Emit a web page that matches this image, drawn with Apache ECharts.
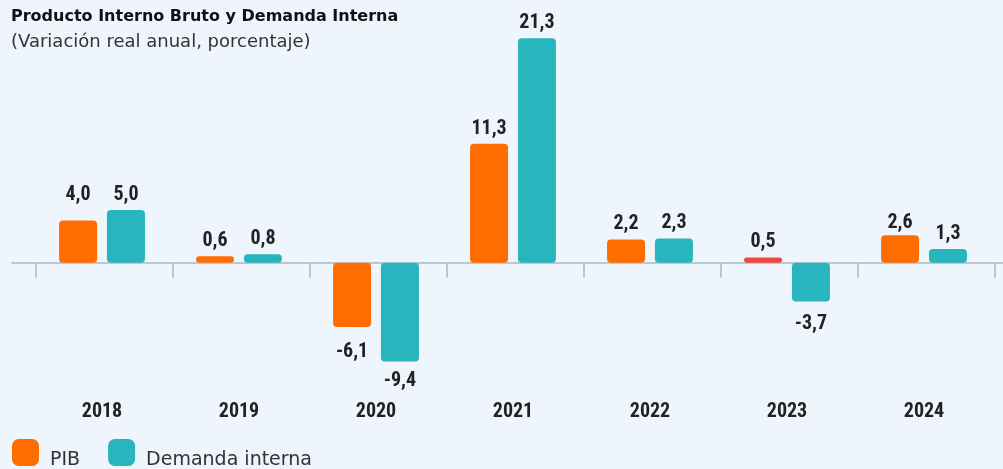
<!DOCTYPE html>
<html>
<head>
<meta charset="utf-8">
<script src="https://cdn.jsdelivr.net/npm/echarts@6/dist/echarts.min.js"></script>
<style>
  html, body { margin: 0; padding: 0; background: #EEF5FC; }
  #chart { width: 1003px; height: 469px; }
</style>
</head>
<body>
<div id="chart"></div>
<script>
// Real annual change (%) of GDP and domestic demand
const years = ['2018', '2019', '2020', '2021', '2022', '2023', '2024'];
const pib = [4.0, 0.6, -6.1, 11.3, 2.2, 0.5, 2.6];
const demandaInterna = [5.0, 0.8, -9.4, 21.3, 2.3, -3.7, 1.3];

const ORANGE = '#FF6C00';
const TEAL = '#28B5BE';
const RED = '#F2463C';
const AXIS = '#A7BBC3';
const NUM_FONT = '"Roboto Condensed", "Noto Sans Condensed", Roboto, sans-serif';
const TEXT_FONT = '"DejaVu Sans", sans-serif';

const fmt = v => v.toFixed(1).replace('.', ',');

// label gap to the bar end; a few labels sit a little further out
const LABEL_GAP = 5;
const pibLabelGap = { 0: 16, 2: 15, 6: 2 };
const diLabelGap = { 2: 9.5, 5: 12 };

const labelCfg = {
  show: true,
  fontFamily: NUM_FONT,
  fontWeight: 'bold',
  fontSize: 20,
  color: '#222',
  distance: LABEL_GAP,
  formatter: p => fmt(p.value)
};

function barData(values, color, gaps, highlight) {
  return values.map((v, i) => ({
    value: v,
    itemStyle: { color: highlight && highlight[i] ? highlight[i] : color },
    label: {
      position: v >= 0 ? 'top' : 'bottom',
      distance: gaps[i] !== undefined ? gaps[i] : LABEL_GAP
    }
  }));
}

const Y_MIN = -12;
const Y_MAX = 22;
const plotBox = { top: 31, height: 358, outerBoundsMode: 'none', containLabel: false };
const hiddenY = idx => ({ type: 'value', gridIndex: idx, min: Y_MIN, max: Y_MAX, show: false, splitLine: { show: false } });

const chart = echarts.init(document.getElementById('chart'));
chart.setOption({
  backgroundColor: '#EEF5FC',
  animation: false,
  title: {
    text: 'Producto Interno Bruto y Demanda Interna',
    subtext: '(Variación real anual, porcentaje)',
    left: 6,
    top: 4,
    itemGap: 8,
    textStyle: { fontFamily: TEXT_FONT, fontWeight: 'bold', fontSize: 16, color: '#111' },
    subtextStyle: { fontFamily: TEXT_FONT, fontSize: 18, color: '#333' }
  },
  legend: {
    left: 12,
    top: 439,
    padding: 0,
    itemWidth: 27,
    itemHeight: 27,
    itemGap: 28,
    icon: 'roundRect',
    formatter: name => '{t|' + name + '}',
    textStyle: {
      fontFamily: TEXT_FONT,
      fontSize: 19,
      color: '#333',
      rich: { t: { fontFamily: TEXT_FONT, fontSize: 19, color: '#333', padding: [15, 0, 0, 6] } }
    },
    data: ['PIB', 'Demanda interna']
  },
  grid: [
    Object.assign({ left: 33.5, width: 959 }, plotBox),   // bars and year labels
    Object.assign({ left: 12, right: 0 }, plotBox),       // zero line
    Object.assign({ left: 36, width: 959 }, plotBox)      // category separators
  ],
  xAxis: [
    {
      type: 'category',
      gridIndex: 0,
      position: 'bottom',
      data: years,
      axisLine: { show: false, onZero: false },
      axisTick: { show: false },
      axisLabel: {
        margin: 13,
        fontFamily: NUM_FONT,
        fontWeight: 'bold',
        fontSize: 20,
        color: '#222'
      },
      splitLine: { show: false }
    },
    {
      type: 'value',
      gridIndex: 1,
      min: 0,
      max: 1,
      axisLine: { show: true, onZero: true, lineStyle: { color: AXIS, width: 1.5 } },
      axisTick: { show: false },
      axisLabel: { show: false },
      splitLine: { show: false }
    },
    {
      type: 'category',
      gridIndex: 2,
      position: 'top',
      data: years,
      axisLine: { show: false, onZero: true },
      axisTick: { show: true, inside: true, length: 15, lineStyle: { color: AXIS, width: 1.5 } },
      axisLabel: { show: false },
      splitLine: { show: false }
    }
  ],
  yAxis: [hiddenY(0), hiddenY(1), hiddenY(2)],
  series: [
    {
      name: 'PIB',
      type: 'bar',
      xAxisIndex: 0,
      yAxisIndex: 0,
      barWidth: 38,
      barGap: '26%',
      itemStyle: { color: ORANGE, borderRadius: 4 },
      label: labelCfg,
      data: barData(pib, ORANGE, pibLabelGap, { 5: RED }),
      z: 3
    },
    {
      name: 'Demanda interna',
      type: 'bar',
      xAxisIndex: 0,
      yAxisIndex: 0,
      barWidth: 38,
      barGap: '26%',
      itemStyle: { color: TEAL, borderRadius: 4 },
      label: labelCfg,
      data: barData(demandaInterna, TEAL, diLabelGap),
      z: 3
    }
  ]
});
</script>
</body>
</html>
